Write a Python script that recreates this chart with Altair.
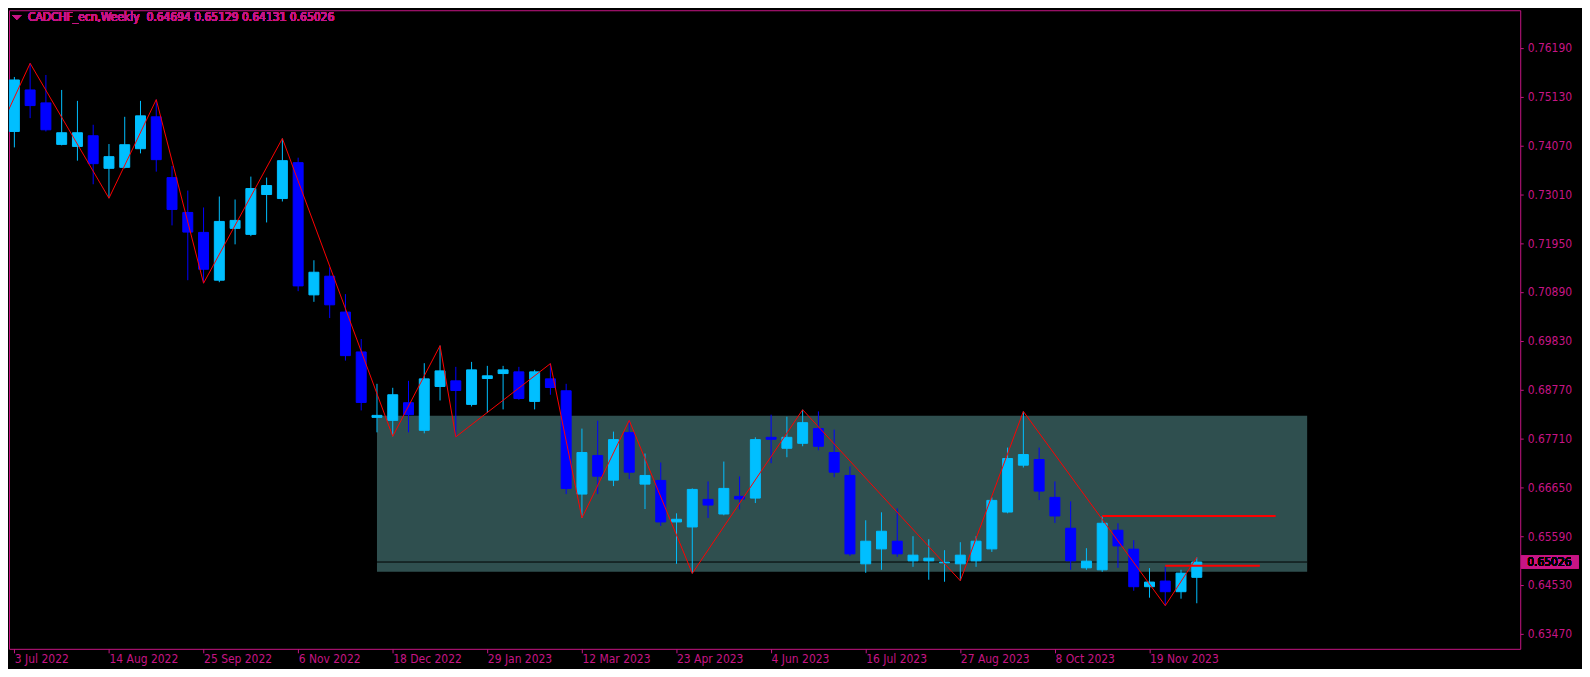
import altair as alt
import pandas as pd

# ---------------- data ----------------
symbol = "CADCHF_ecn,Weekly"
date_labels = ["3 Jul 2022", "14 Aug 2022", "25 Sep 2022", "6 Nov 2022", "18 Dec 2022",
               "29 Jan 2023", "12 Mar 2023", "23 Apr 2023", "4 Jun 2023", "16 Jul 2023",
               "27 Aug 2023", "8 Oct 2023", "19 Nov 2023"]
price_ticks = [0.76190, 0.75130, 0.74070, 0.73010, 0.71950, 0.70890, 0.69830,
               0.68770, 0.67710, 0.66650, 0.65590, 0.64530, 0.63470]

opens = [0.74372, 0.75273, 0.74992, 0.74091, 0.74047, 0.74279, 0.73572, 0.73593, 0.73998, 0.74690,
         0.73370, 0.72614, 0.72181, 0.71143, 0.72268, 0.72138, 0.73003, 0.72916, 0.73695, 0.70825,
         0.71230, 0.70451, 0.69586, 0.68166, 0.68101, 0.68484, 0.67885, 0.68836, 0.68959, 0.68447,
         0.69009, 0.69117, 0.69154, 0.68512, 0.69002, 0.68743, 0.66501, 0.67337, 0.66803, 0.67835,
         0.66717, 0.66797, 0.65896, 0.65787, 0.66386, 0.66068, 0.66451, 0.66414, 0.67733, 0.67495,
         0.67603, 0.67922, 0.67403, 0.66905, 0.64987, 0.65311, 0.65478, 0.65052, 0.65052, 0.65009,
         0.64987, 0.65052, 0.65311, 0.66111, 0.67128, 0.67251, 0.66429, 0.65759, 0.64900, 0.64857,
         0.65716, 0.65305, 0.64490, 0.64613, 0.64382, 0.64694]
highs = [0.75555, 0.75851, 0.75598, 0.75273, 0.75036, 0.74517, 0.74099, 0.74690, 0.75036, 0.75064,
         0.73620, 0.73089, 0.72722, 0.72960, 0.72895, 0.73392, 0.73370, 0.74220, 0.73803, 0.71576,
         0.71424, 0.70841, 0.69867, 0.68894, 0.68808, 0.68959, 0.69342, 0.69723, 0.69262, 0.69370,
         0.69284, 0.69284, 0.69262, 0.69197, 0.69333, 0.68894, 0.67922, 0.68094, 0.67857, 0.68101,
         0.67381, 0.67186, 0.66083, 0.66624, 0.66775, 0.67207, 0.66884, 0.67733, 0.68224, 0.68181,
         0.68332, 0.68295, 0.67900, 0.67100, 0.65932, 0.66105, 0.66191, 0.65586, 0.65521, 0.65283,
         0.65456, 0.65586, 0.66429, 0.67510, 0.68295, 0.67510, 0.66775, 0.66343, 0.65326, 0.66025,
         0.65867, 0.65500, 0.64894, 0.64922, 0.64857, 0.65129]
lows = [0.74026, 0.74661, 0.74372, 0.74070, 0.73738, 0.73226, 0.72923, 0.73570, 0.73896, 0.73500,
        0.72333, 0.71143, 0.71078, 0.71100, 0.71922, 0.72100, 0.72397, 0.72852, 0.70905, 0.70674,
        0.70322, 0.69398, 0.68317, 0.67841, 0.67755, 0.67841, 0.67820, 0.68533, 0.67742, 0.68403,
        0.68261, 0.68339, 0.68548, 0.68339, 0.68657, 0.66501, 0.65982, 0.66501, 0.66674, 0.66825,
        0.66176, 0.65809, 0.64987, 0.64779, 0.65982, 0.66040, 0.66170, 0.66306, 0.67171, 0.67301,
        0.67539, 0.67452, 0.66868, 0.65160, 0.64792, 0.64857, 0.65138, 0.64922, 0.64641, 0.64598,
        0.64620, 0.64922, 0.65246, 0.66083, 0.67078, 0.66371, 0.65874, 0.64857, 0.64857, 0.64814,
        0.64900, 0.64403, 0.64252, 0.64079, 0.64230, 0.64131]
closes = [0.75490, 0.74934, 0.74408, 0.74344, 0.74344, 0.73673, 0.73825, 0.74084, 0.74711, 0.73760,
          0.72679, 0.72188, 0.71381, 0.72419, 0.72441, 0.73133, 0.73198, 0.73738, 0.71020, 0.71316,
          0.70609, 0.69506, 0.68490, 0.68209, 0.68657, 0.68224, 0.69002, 0.69175, 0.68750, 0.69197,
          0.69068, 0.69197, 0.68576, 0.69154, 0.68814, 0.66624, 0.67403, 0.66889, 0.67683, 0.66976,
          0.66905, 0.65896, 0.65954, 0.66602, 0.66263, 0.66624, 0.66393, 0.67683, 0.67690, 0.67733,
          0.68051, 0.67539, 0.66976, 0.65203, 0.65478, 0.65694, 0.65203, 0.65175, 0.65110, 0.65024,
          0.65175, 0.65478, 0.66364, 0.67273, 0.67359, 0.66566, 0.66025, 0.65052, 0.65045, 0.65867,
          0.65376, 0.64490, 0.64591, 0.64382, 0.64786, 0.65026]

# ZigZag pivots (bar index, price)
zz_index = [-1, 1, 6, 9, 12, 17, 24, 27, 28, 34, 36, 39, 43, 50, 60, 64, 73, 75]
zz_price = [0.74370, 0.75851, 0.72923, 0.75064, 0.71078, 0.74220, 0.67755, 0.69723, 0.67742,
            0.69333, 0.65982, 0.68101, 0.64779, 0.68332, 0.64620, 0.68295, 0.64079, 0.65129]

# range box (bar index from/to, price bottom/top)
box_from, box_to = [23], [82]
box_low, box_high = [0.64814], [0.68202]

# red horizontal levels
lvl_from = [69, 73]
lvl_to = [80, 79]
lvl_price = [0.66025, 0.64944]

# ---------------- styling ----------------
MAG = "#C71585"
BULL = "#00BFFF"
BEAR = "#0000FF"
FONT = "DejaVu Sans Condensed, DejaVu Sans"
W, H = 1517, 641

n = len(opens)
df = pd.DataFrame({"i": list(range(n)), "open": opens, "high": highs, "low": lows, "close": closes})
df["dir"] = ["bull" if c >= o else "bear" for o, c in zip(opens, closes)]
zz = pd.DataFrame({"i": zz_index, "price": zz_price})
box = pd.DataFrame({"i0": box_from, "i1": box_to, "p0": box_low, "p1": box_high})
lv = pd.DataFrame({"i0": lvl_from, "i1": lvl_to, "price": lvl_price})

last_o, last_h, last_l, last_c = opens[-1], highs[-1], lows[-1], closes[-1]
header = f"{symbol}\u00a0 {last_o:.5f} {last_h:.5f} {last_l:.5f} {last_c:.5f}"

xscale = alt.Scale(domain=[-0.025, 95.2], nice=False, zero=False)
yscale = alt.Scale(domain=[0.63142, 0.77003], nice=False, zero=False)
dir_scale = alt.Scale(domain=["bull", "bear"], range=[BULL, BEAR])

label_expr = "[" + ",".join(f"'{d}'" for d in date_labels) + "][round(datum.value / 6)]"
x_axis = alt.Axis(values=[6 * k for k in range(len(date_labels))], labelExpr=label_expr,
                  orient="bottom", title=None, grid=False, domain=False,
                  tickSize=4, tickColor=MAG, labelColor=MAG, labelFont=FONT, labelFontSize=12,
                  labelAlign="left", labelBaseline="top", labelPadding=1,
                  labelFlush=False, labelOverlap=False)
y_axis = alt.Axis(values=price_ticks, format=".5f", orient="right", title=None, grid=False,
                  domain=False, tickSize=3, tickColor=MAG, labelColor=MAG, labelFont=FONT,
                  labelFontSize=12, labelPadding=4, labelFlush=False, labelOverlap=False)


def X(field):
    return alt.X(field, scale=xscale, axis=x_axis)


def Y(field):
    return alt.Y(field, scale=yscale, axis=y_axis)


rect = alt.Chart(box).mark_rect(color="#2F4F4F").encode(
    x=X("i0:Q"), x2="i1:Q", y=Y("p0:Q"), y2="p1:Q",
)

price_line = alt.Chart(box).mark_rule(color="black", strokeWidth=1).encode(
    x=X("i0:Q"), x2="i1:Q", y=alt.datum(last_c, scale=yscale)
)

wicks = alt.Chart(df).mark_rule(strokeWidth=1).encode(
    x=X("i:Q"), y=Y("low:Q"), y2="high:Q",
    color=alt.Color("dir:N", scale=dir_scale, legend=None),
)

bodies = alt.Chart(df).mark_bar(size=10, strokeWidth=1).encode(
    x=X("i:Q"), y=Y("open:Q"), y2="close:Q",
    fill=alt.Fill("dir:N", scale=dir_scale, legend=None),
    stroke=alt.Stroke("dir:N", scale=dir_scale, legend=None),
)

zigzag = alt.Chart(zz).mark_line(color="#FF0000", strokeWidth=1, clip=True).encode(
    x=X("i:Q"), y=Y("price:Q"), order="i:Q",
)

levels = alt.Chart(lv).mark_rule(color="#FF0000", strokeWidth=2).encode(
    x=X("i0:Q"), x2="i1:Q", y=Y("price:Q"),
)

price_box = alt.Chart(df).mark_point(
    shape="M-1,-0.22L1,-0.22L1,0.22L-1,0.22Z", filled=True, size=3249,
    color=MAG, opacity=1, strokeWidth=0
).encode(x=alt.value(W + 29.8), y=alt.datum(last_c, scale=yscale))

price_text = alt.Chart(df).mark_text(
    align="left", baseline="middle", font=FONT, fontSize=12, color="black"
).encode(x=alt.value(W + 7), y=alt.datum(last_c, scale=yscale), text=alt.value(f"{last_c:.5f}"))

tri = alt.Chart(df).mark_point(
    shape="M-1,-0.5L1,-0.5L0,0.5Z", filled=True, size=81, color=MAG, opacity=1, strokeWidth=0
).encode(x=alt.value(7.8), y=alt.value(7))

head = alt.Chart(df).mark_text(
    align="left", baseline="alphabetic", font=FONT, fontSize=12, color=MAG
).encode(x=alt.value(19), y=alt.value(11.2), text=alt.value(header))

chart = alt.layer(
    rect, price_line, wicks, bodies, zigzag, levels, price_box, price_text, tri, head
).properties(
    width=W, height=H,
    autosize=alt.AutoSizeParams(type="none"),
    padding={"left": 1, "top": 1, "right": 62, "bottom": 19},
    background="black",
).configure_view(stroke=MAG, strokeWidth=1, fill="black")

chart.save("out.html", embed_options={"renderer": "svg", "actions": False})
